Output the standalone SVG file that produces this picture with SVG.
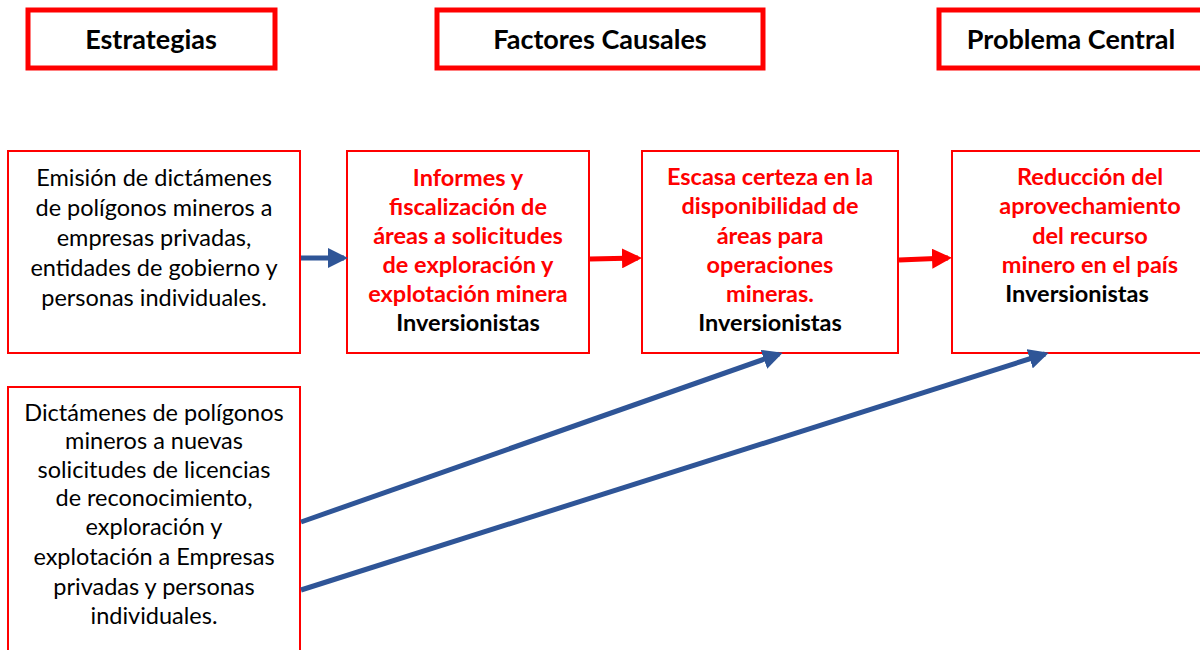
<svg xmlns="http://www.w3.org/2000/svg" width="1200" height="650" viewBox="0 0 1200 650">
<style>
.hdr{fill:#fff;stroke:#ff0000;stroke-width:5}
.box{fill:#fff;stroke:#ff0000;stroke-width:2}
text{font-family:Lato,"Open Sans",sans-serif;text-anchor:middle}
.h{font-size:27px;font-weight:bold;fill:#000}
.b{font-size:23.5px;fill:#000}
.r{font-size:23.5px;font-weight:bold;fill:#ff0000}
.k{font-size:23.5px;font-weight:bold;fill:#000}
.blue{stroke:#2f5597;stroke-width:5;fill:none}
.red{stroke:#ff0000;stroke-width:5;fill:none}
</style>
<defs>
<marker id="ab" markerWidth="4" markerHeight="4" refX="3.2" refY="2" orient="auto" markerUnits="strokeWidth"><path d="M0,0 L4,2 L0,4 z" fill="#2f5597"/></marker>
<marker id="ar" markerWidth="4" markerHeight="4" refX="3.2" refY="2" orient="auto" markerUnits="strokeWidth"><path d="M0,0 L4,2 L0,4 z" fill="#ff0000"/></marker>
</defs>
<g id="h1"><rect class="hdr" x="28" y="10" width="247" height="58"/><text class="h" x="151" y="49">Estrategias</text></g>
<g id="h2"><rect class="hdr" x="437" y="10" width="326" height="58"/><text class="h" x="600" y="49">Factores Causales</text></g>
<g id="h3"><rect class="hdr" x="939" y="10" width="270" height="58"/><text class="h" x="1071" y="49">Problema Central</text></g>

<g id="n1"><rect class="box" x="8" y="151" width="292" height="202"/>
<text class="b" x="154" y="186">Emisión de dictámenes</text>
<text class="b" x="154" y="216">de polígonos mineros a</text>
<text class="b" x="154" y="246">empresas privadas,</text>
<text class="b" x="154" y="276">entidades de gobierno y</text>
<text class="b" x="154" y="306">personas individuales.</text></g>

<g id="n2"><rect class="box" x="347" y="151" width="242" height="202"/>
<text class="r" x="468" y="186">Informes y</text>
<text class="r" x="468" y="215">fiscalización de</text>
<text class="r" x="468" y="244">áreas a solicitudes</text>
<text class="r" x="468" y="273">de exploración y</text>
<text class="r" x="468" y="302">explotación minera</text>
<text class="k" x="468" y="331">Inversionistas</text></g>

<g id="n3"><rect class="box" x="642" y="151" width="256" height="202"/>
<text class="r" x="770" y="185">Escasa certeza en la</text>
<text class="r" x="770" y="214">disponibilidad de</text>
<text class="r" x="770" y="244">áreas para</text>
<text class="r" x="770" y="273">operaciones</text>
<text class="r" x="770" y="302">mineras.</text>
<text class="k" x="770" y="331">Inversionistas</text></g>

<g id="n4"><rect class="box" x="952" y="151" width="260" height="202"/>
<text class="r" x="1090" y="185">Reducción del</text>
<text class="r" x="1090" y="214">aprovechamiento</text>
<text class="r" x="1090" y="244">del recurso</text>
<text class="r" x="1090" y="273">minero en el país</text>
<text class="k" x="1077" y="302">Inversionistas</text></g>

<g id="n5"><rect class="box" x="8" y="387" width="292" height="280"/>
<text class="b" x="154" y="421">Dictámenes de polígonos</text>
<text class="b" x="154" y="449">mineros a nuevas</text>
<text class="b" x="154" y="478">solicitudes de licencias</text>
<text class="b" x="154" y="506">de reconocimiento,</text>
<text class="b" x="154" y="535">exploración y</text>
<text class="b" x="154" y="565">explotación a Empresas</text>
<text class="b" x="154" y="595">privadas y personas</text>
<text class="b" x="154" y="624">individuales.</text></g>

<g id="connectors">
<line class="blue" x1="301" y1="258" x2="344" y2="258" marker-end="url(#ab)"/>
<line class="red" x1="590" y1="259" x2="638" y2="258" marker-end="url(#ar)"/>
<line class="red" x1="899" y1="260" x2="948" y2="258" marker-end="url(#ar)"/>
<line class="blue" x1="301" y1="522" x2="779" y2="354" marker-end="url(#ab)"/>
<line class="blue" x1="301" y1="590" x2="1045" y2="354" marker-end="url(#ab)"/>
</g>
</svg>
